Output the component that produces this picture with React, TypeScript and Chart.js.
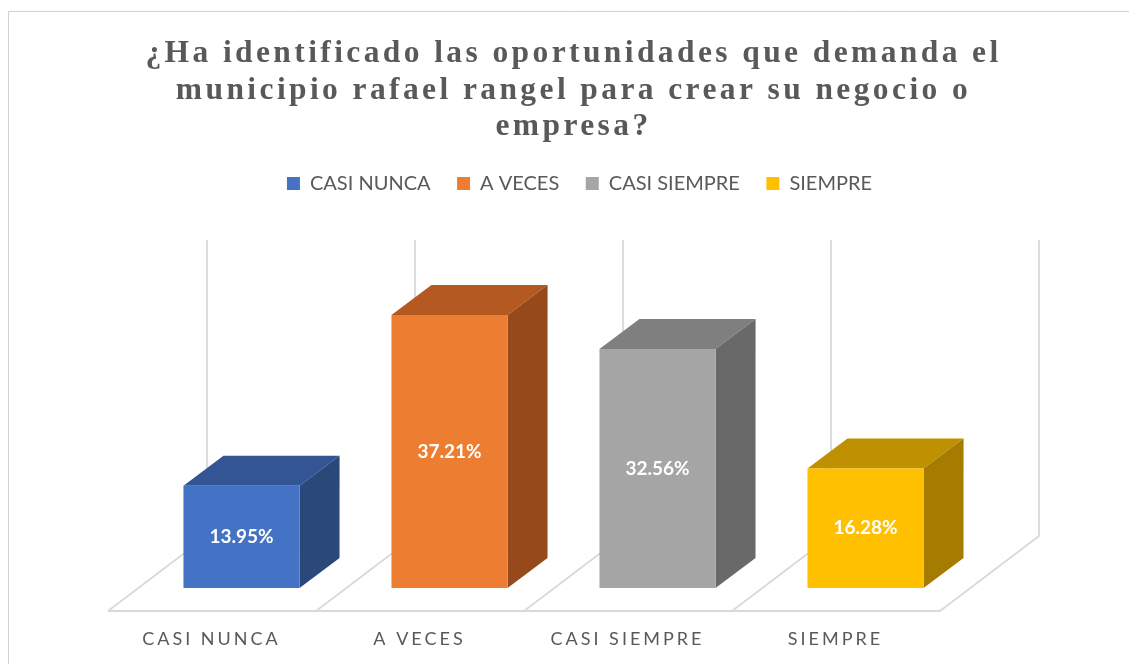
import React, { useEffect, useRef } from "react";
import { Chart, registerables } from "chart.js";

Chart.register(...registerables);

const titleLines = [
  "¿Ha identificado las oportunidades que demanda el",
  "municipio rafael rangel para crear su negocio o",
  "empresa?",
];
const categories = ["CASI NUNCA", "A VECES", "CASI SIEMPRE", "SIEMPRE"];
const values = [13.95, 37.21, 32.56, 16.28];
const frontColors = ["#4472c4", "#ed7d31", "#a5a5a5", "#ffc000"];
const topColors = ["#335593", "#b45a20", "#7f7f7f", "#bf9000"];
const sideColors = ["#2a4879", "#96491a", "#696969", "#a57c00"];

const DEPTH_X = 40;
const DEPTH_Y = 30;
const FLOOR_FRONT_DX = 29.5;
const FLOOR_FRONT_DY = 23;
const FLOOR_BACK_DX = 69.5;
const FLOOR_BACK_DY = 52;
const WALL_TOP = 240;
const TEXT = "#595959";
const GRID = "#d9d9d9";

const spacing: any = {
  id: "spacing",
  beforeInit(chart: any) {
    const legend = chart.legend;
    const fit = legend.fit;
    legend.fit = function () {
      fit.call(this);
      this.height += 90.9;
    };
    const legendDraw = legend.draw;
    legend.draw = function () {
      const c = this.ctx;
      c.save();
      c.translate(26, 0);
      legendDraw.call(this);
      c.restore();
    };
  },
  afterLayout(chart: any) {
    const title = chart.titleBlock;
    if (title && !title.__wrapped) {
      title.__wrapped = true;
      const draw = title.draw;
      title.draw = function () {
        const c = this.ctx;
        const l = this.left;
        const r = this.right;
        c.save();
        c.translate(20, 0);
        c.letterSpacing = "3.4px";
        // widen the box so the long first line is not squeezed to its max width
        this.left = l - 130;
        this.right = r + 130;
        draw.call(this);
        this.left = l;
        this.right = r;
        c.restore();
      };
    }
    const x = chart.scales.x;
    if (x && !x.__wrapped) {
      x.__wrapped = true;
      const drawLabels = x.drawLabels;
      x.drawLabels = function (area: any) {
        const c = this.ctx;
        c.save();
        c.letterSpacing = "3px";
        drawLabels.call(this, area);
        c.restore();
      };
    }
  },
};

const frame: any = {
  id: "frame",
  beforeDraw(chart: any) {
    const c = chart.ctx;
    c.save();
    c.strokeStyle = "#d2d2d2";
    c.lineWidth = 1;
    c.beginPath();
    c.moveTo(8.5, chart.height);
    c.lineTo(8.5, 11.5);
    c.lineTo(chart.width, 11.5);
    c.stroke();
    c.restore();
  },
};

const floor3d: any = {
  id: "floor3d",
  beforeDatasetsDraw(chart: any) {
    const c = chart.ctx;
    const a = chart.chartArea;
    const n = categories.length;
    const slot = (a.right - a.left) / n;
    const frontY = a.bottom + FLOOR_FRONT_DY;
    const backY = a.bottom - FLOOR_BACK_DY;
    c.save();
    c.strokeStyle = GRID;
    c.lineWidth = 1.8;
    c.beginPath();
    c.moveTo(a.left - FLOOR_FRONT_DX, frontY);
    c.lineTo(a.right - FLOOR_FRONT_DX, frontY);
    for (let i = 0; i <= n; i++) {
      const x0 = a.left + slot * i;
      c.moveTo(x0 - FLOOR_FRONT_DX, frontY);
      c.lineTo(x0 + FLOOR_BACK_DX, backY);
      c.lineTo(x0 + FLOOR_BACK_DX, WALL_TOP);
    }
    c.stroke();
    c.restore();

    const meta = chart.getDatasetMeta(0);
    meta.data.forEach((bar: any, i: number) => {
      const l = bar.x - bar.width / 2;
      const r = bar.x + bar.width / 2;
      c.save();
      c.fillStyle = topColors[i];
      c.beginPath();
      c.moveTo(l, bar.y);
      c.lineTo(l + DEPTH_X, bar.y - DEPTH_Y);
      c.lineTo(r + DEPTH_X, bar.y - DEPTH_Y);
      c.lineTo(r, bar.y);
      c.closePath();
      c.fill();
      c.fillStyle = sideColors[i];
      c.beginPath();
      c.moveTo(r, bar.y);
      c.lineTo(r + DEPTH_X, bar.y - DEPTH_Y);
      c.lineTo(r + DEPTH_X, bar.base - DEPTH_Y);
      c.lineTo(r, bar.base);
      c.closePath();
      c.fill();
      c.restore();
    });
  },
  afterDatasetsDraw(chart: any) {
    const c = chart.ctx;
    const meta = chart.getDatasetMeta(0);
    c.save();
    c.fillStyle = "#ffffff";
    c.font = "bold 19px Lato, 'Open Sans', sans-serif";
    c.textAlign = "center";
    c.textBaseline = "middle";
    meta.data.forEach((bar: any, i: number) => {
      c.fillText(values[i].toFixed(2) + "%", bar.x, (bar.y + bar.base) / 2);
    });
    c.restore();
  },
};

export default function App() {
  const ref = useRef<HTMLCanvasElement | null>(null);
  useEffect(() => {
    if (!ref.current) return;
    const chart = new Chart(ref.current, {
      type: "bar",
      data: {
        labels: categories,
        datasets: [
          {
            data: values,
            backgroundColor: frontColors,
            borderWidth: 0,
            barPercentage: 0.93,
            categoryPercentage: 0.6,
          },
        ],
      },
      plugins: [spacing, frame, floor3d],
      options: {
        responsive: false,
        animation: false,
        layout: { padding: { left: 137.5, right: 159.5, top: 0, bottom: 0 } },
        plugins: {
          tooltip: { enabled: false },
          title: {
            display: true,
            text: titleLines,
            color: TEXT,
            font: { family: "'Liberation Serif', serif", size: 31.5, weight: "bold", lineHeight: 1.16 },
            padding: { top: 36, bottom: 1.5 },
          },
          legend: {
            display: true,
            position: "top",
            labels: {
              boxWidth: 13,
              boxHeight: 13,
              padding: 26.5,
              color: TEXT,
              font: { family: "Lato, 'Open Sans', sans-serif", size: 20 },
              generateLabels: () =>
                categories.map((text, i) => ({
                  text,
                  fillStyle: frontColors[i],
                  strokeStyle: frontColors[i],
                  lineWidth: 0,
                  fontColor: TEXT,
                  index: i,
                })),
            },
          },
        },
        scales: {
          x: {
            grid: { display: false },
            border: { display: false },
            afterFit(scale: any) {
              scale.height = 76;
            },
            ticks: {
              color: TEXT,
              font: { family: "Lato, 'Open Sans', sans-serif", size: 18 },
              padding: 32,
              labelOffset: -30,
              maxRotation: 0,
              autoSkip: false,
            },
          },
          y: { display: false, min: 0, max: 40 },
        },
      },
    } as any);
    return () => chart.destroy();
  }, []);
  return (
    <canvas
      ref={ref}
      width={1129}
      height={664}
      style={{ position: "absolute", left: 0, top: 0, display: "block" }}
    />
  );
}
